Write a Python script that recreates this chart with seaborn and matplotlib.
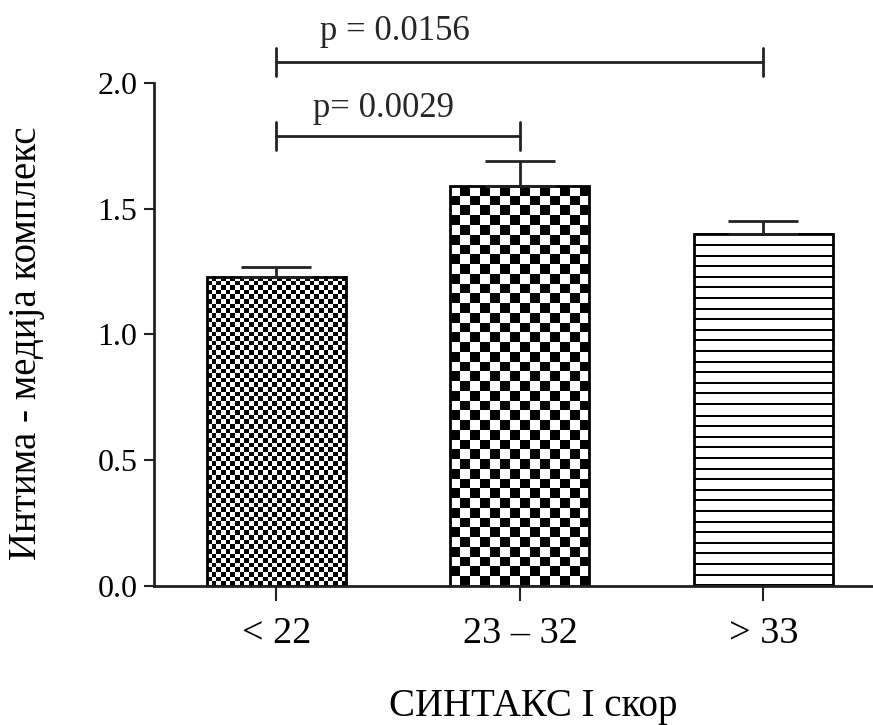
import numpy as np
import matplotlib
matplotlib.use("Agg")
import matplotlib.pyplot as plt
import seaborn as sns

# data
groups = ["< 22", "23 – 32", "> 33"]
means = [1.23, 1.59, 1.40]
errs = [0.04, 0.10, 0.05]
patterns = ["fine", "coarse", "stripes"]
pairs = [(0, 2), (0, 1)]
p_labels = ["p = 0.0156", "p= 0.0029"]
bracket_y = [2.083, 1.79]

sns.set_theme(style="ticks")
plt.rcParams["font.family"] = ["Liberation Serif", "DejaVu Serif"]
ink = "#222222"

fig, ax = plt.subplots(figsize=(8.73, 7.25), dpi=100)
fig.subplots_adjust(left=0.1764, right=1.0, bottom=0.1917, top=0.9897)

sns.barplot(x=groups, y=means, color="white", edgecolor="black", linewidth=2,
            width=0.571, errorbar=None, ax=ax, zorder=2)
ax.set_xlim(-0.503, 2.45)
ax.set_ylim(0, 2.3)

# fill patterns (checkerboards and stripes) drawn as images under each bar
for bar, pat in zip(ax.patches, patterns):
    x0, w, h = bar.get_x(), bar.get_width(), bar.get_height()
    (px0, py0), (px1, py1) = ax.transData.transform([(x0, 0), (x0 + w, h)])
    wpx, hpx = px1 - px0, py1 - py0
    if pat == "stripes":
        rows = np.arange(int(round(hpx)))
        img = ((rows % 10.6) < 2).astype(float)[:, None] * np.ones((1, 4))
    else:
        size = 4.6 if pat == "fine" else 9.8
        nx, ny = int(round(wpx / size)), int(round(hpx / size))
        img = (np.indices((ny, nx)).sum(axis=0) % 2).astype(float)
    ax.imshow(img, extent=(x0, x0 + w, 0, h), cmap="gray_r", vmin=0, vmax=1,
              interpolation="nearest", aspect="auto", zorder=1)
    bar.set_facecolor("none")

ax.errorbar(np.arange(len(groups)), means, yerr=[np.zeros(len(errs)), errs],
            fmt="none", ecolor=ink, elinewidth=2, capsize=25, capthick=2, zorder=3)

# significance brackets
offsets = [(0.177, 0.088), (0.148, 0.075)]
for (i, j), y, lab, (dx, dy) in zip(pairs, bracket_y, p_labels, offsets):
    ax.plot([i, j], [y, y], color=ink, lw=2)
    for xx in (i, j):
        ax.plot([xx, xx], [y - 0.055, y + 0.055], color=ink, lw=2)
    ax.text(i + dx, y + dy, lab, fontsize=25, ha="left", va="baseline")

ax.set_xlim(-0.503, 2.45)
ax.set_ylim(0, 2.3)

sns.despine(ax=ax)
ax.spines["left"].set_bounds(0, 2)
for s in ("left", "bottom"):
    ax.spines[s].set_linewidth(2)
    ax.spines[s].set_color(ink)

ax.set_yticks([0, 0.5, 1.0, 1.5, 2.0])
ax.set_yticklabels(["0.0", "0.5", "1.0", "1.5", "2.0"])
ax.tick_params(axis="y", length=7, width=1.5, color=ink, pad=5, labelsize=23, labelcolor="black")
ax.tick_params(axis="x", length=11, width=1.5, color=ink, pad=11, labelsize=27.5, labelcolor="black")

ax.set_ylabel("Интима - медија комплекс", fontsize=28, color="black")
ax.set_xlabel("СИНТАКС I скор", fontsize=28, color="black")
ax.yaxis.set_label_coords(-0.152, 0.42)
ax.xaxis.set_label_coords(0.527, -0.176)

fig.savefig("out.png", dpi=100)
